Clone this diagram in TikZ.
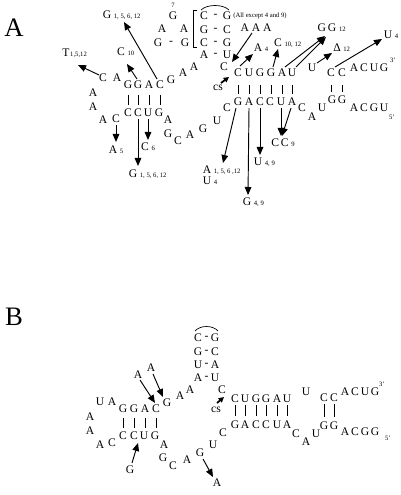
\documentclass[tikz,border=0pt]{standalone}
\usepackage{fontspec}
\setmainfont{Liberation Serif}
\usetikzlibrary{arrows.meta}
\newcommand\nt{\fontsize{8.7}{9}\selectfont}
\newcommand\subf{\fontsize{5}{6}\selectfont}
\newcommand\sbs[2][2pt]{\rlap{\smash{\kern#1\subf #2}}}
\begin{document}
\begin{tikzpicture}[x=0.75pt,y=-0.75pt,
  nt/.style={inner sep=0pt,font=\nt},
  sm/.style={inner sep=0pt,font=\subf},
  panel/.style={inner sep=0pt,font=\fontsize{20}{22}\selectfont},
  arr/.style={line width=0.7pt,-{Triangle[length=6pt,width=5pt]}},
  csarr/.style={line width=1.3pt,-{Triangle[length=4pt,width=4pt]}},
  pairbar/.style={line width=0.45pt},
  plain/.style={line width=0.5pt}]
\useasboundingbox (0,0) rectangle (400,495);

% ================= Panel A =================
\node[panel] (pA) at (14,28) {A};

\node[nt] (tT) at (66,53) {T\sbs[0.5pt]{1,5,12}};
\node[nt] (tC10) at (121,52) {C\sbs{10}};
\node[nt] (tG1) at (107,15) {G\sbs{1, 5, 6, 12}};

\foreach \n/\l/\x/\y in {l1/C/103/78, l2/A/117/78, l3/G/128/85, l4/G/138/85, l5/A/149/85, l6/C/160/85, l7/G/171/80, l8/A/183/73, l9/A/194/67, l10/A/93/93, l11/A/93/107, l12/A/103/120, l13/C/116/119, l14/C/128/113, l15/C/138/113, l16/U/148/113, l17/G/159/113, l18/A/168/120, l19/G/168/134, l20/C/178/141, l21/A/190/135, l22/G/203/129, l23/U/217/121, l24/C/227/108}
  \node[nt] (\n) at (\x,\y) {\l};
\foreach \a/\b in {l3/l14, l4/l15, l5/l16, l6/l17}
  \draw[pairbar, shorten <=4.5pt, shorten >=3pt] (\a.south) -- (\a.south |- \b.north);

\node[nt] (tA5) at (113,150) {A\sbs{5}};
\node[nt] (tC6) at (145,147) {C\sbs{6}};
\node[nt] (tG2) at (133,174) {G\sbs{1, 5, 6, 12}};

% hairpin loop
\node[sm] (h7) at (173,5) {7};
\node[nt] (hG) at (173,16) {G};
\node[nt] (hA1) at (162,29) {A};
\node[nt] (hA2) at (184,29) {A};
\node[nt] (hG1) at (158,43) {G};
\node[nt] (hd) at (171,43) {-};
\node[nt] (hG2) at (185,43) {G};
\draw[plain] (197,10) -- (193,10) -- (193,47) -- (197,47);

\foreach \i/\a/\b/\y in {1/C/G/16, 2/G/C/30, 3/C/G/43, 4/A/U/55} {
  \node[nt] (hl\i) at (204,\y) {\a};
  \node[nt] (hm\i) at (215.5,\y) {-};
  \node[nt] (hr\i) at (227,\y) {\b};
}
\draw[plain] (201,10) .. controls (207,4) and (223,4) .. (229,10);

\node[sm] (note) at (260,16) {(All except 4 and 9)};
\node[nt] (aaa) at (256,28) {A A A};
\node[nt] (cA) at (224,67) {C};
\node[nt] (csA) at (218,88) {cs};

\foreach \l/\x [count=\i] in {C/238, U/249, G/260, G/271, A/282, U/292}
  \node[nt] (s\i) at (\x,73) {\l};
\foreach \l/\x [count=\i] in {G/238, A/249, C/260, C/270, U/281, A/292}
  \node[nt] (b\i) at (\x,102) {\l};
\foreach \i in {1,...,6}
  \draw[pairbar, shorten <=6pt, shorten >=3pt] (s\i.south) -- (s\i.south |- b\i.north);

\node[nt] (u7) at (312,68) {U};
\node[nt] (c8) at (331,73) {C};
\node[nt] (c9) at (342,73) {C};
\foreach \l/\x [count=\i] in {A/354, C/364, U/374, G/384}
  \node[nt] (r\i) at (\x,68) {\l};
\node[sm] (p3) at (393,60) {3'};
\node[nt] (bC) at (302,108) {C};
\node[nt] (bA) at (312,117) {A};
\node[nt] (bU) at (322,108) {U};
\node[nt] (g8) at (332,100) {G};
\node[nt] (g9) at (342,100) {G};
\foreach \l/\x [count=\i] in {A/354, C/364, G/374, U/384}
  \node[nt] (q\i) at (\x,108) {\l};
\node[sm] (p5) at (392,117) {5'};
\foreach \a/\b in {c8/g8, c9/g9}
  \draw[pairbar, shorten <=6pt, shorten >=3pt] (\a.south) -- (\a.south |- \b.north);

\node[nt] (tA4) at (258,48) {A\sbs{4}};
\node[nt] (tC1012) at (278,43) {C\sbs{10, 12}};
\node[nt] (tGG) at (327,28) {G\,G\sbs{12}};
\node[nt] (tD) at (337,48) {Δ\sbs{12}};
\node[nt] (tU4) at (388,35) {U\sbs{4}};
\node[nt] (tA1) at (207,170) {A\sbs{1, 5, 6 ,12}};
\node[nt] (tU4b) at (207,181) {U\sbs{4}};
\node[nt] (tU49) at (258,162) {U\sbs{4, 9}};
\node[nt] (tG49) at (247,202) {G\sbs{4, 9}};
\node[nt] (tCC9) at (280,143) {C\,C\sbs{9}};

% arrows A
\draw[arr] ([shift={(-4,-3)}]l1.center) -- ([shift={(12,12)}]tT.center);
\draw[arr] ([shift={(-1,-6)}]l4.center) -- ([shift={(6,12)}]tC10.center);
\draw[arr] ([shift={(-3,-6)}]l6.center) -- ([shift={(17,7)}]tG1.center);
\draw[arr] ([shift={(0,6)}]l13.center) -- ([shift={(3,-8)}]tA5.center);
\draw[arr] ([shift={(0,6)}]l15.center) -- ([shift={(5,-8)}]tG2.center);
\draw[arr] ([shift={(0,6)}]l16.center) -- ([shift={(3,-7)}]tC6.center);
\draw[arr] ([shift={(-4,5)}]aaa.center) -- ([shift={(8,-5)}]cA.center);
\draw[csarr] ([shift={(3,-5)}]csA.center) -- ([shift={(-9,4)}]s1.center);
\draw[arr] ([shift={(2,-7)}]s1.center) -- ([shift={(-5,6)}]tA4.center);
\draw[arr] ([shift={(2,-6)}]s4.center) -- ([shift={(0,6)}]tC1012.center);
\draw[arr] ([shift={(3,-6)}]s5.center) -- ([shift={(-2,8)}]tGG.center);
\draw[arr] ([shift={(4,-6)}]s6.center) -- ([shift={(-1,9)}]tGG.center);
\draw[arr] ([shift={(5,-5)}]u7.center) -- ([shift={(-5,5)}]tD.center);
\draw[arr] ([shift={(4,-6)}]c8.center) -- ([shift={(-6,4)}]tU4.center);
\draw[arr] ([shift={(-2,6)}]b1.center) -- ([shift={(16,-7)}]tA1.center);
\draw[arr] ([shift={(0,6)}]b2.center) -- ([shift={(1,-7)}]tG49.center);
\draw[arr] ([shift={(0,6)}]b3.center) -- ([shift={(2,-7)}]tU49.center);
\draw[arr] ([shift={(0,6)}]b5.center) -- ([shift={(1,-7)}]tCC9.center);
\draw[arr] ([shift={(-1,6)}]b6.center) -- ([shift={(2,-7)}]tCC9.center);

% ================= Panel B =================
\node[panel] (pB) at (14,317) {B};
\foreach \n/\l/\x/\y in {m1/A/138/375, m2/A/151/368, m3/U/100/402, m4/A/112/402, m5/G/123/409, m6/G/134/409, m7/A/145/409, m8/C/156/409, m9/G/167/403, m10/A/180/396, m11/A/190/390, m12/A/90/417, m13/A/90/431, m14/A/100/445, m15/C/112/443, m16/C/123/436, m17/C/134/436, m18/U/144/436, m19/G/155/436, m20/A/164/445, m21/G/163/458, m22/C/173/466, m23/A/187/460, m24/G/200/453, m25/U/213/445, m26/C/223/433, m27/G/130/470, m28/A/217/483}
  \node[nt] (\n) at (\x,\y) {\l};
\foreach \a/\b in {m5/m16, m6/m17, m7/m18, m8/m19}
  \draw[pairbar, shorten <=3.75pt, shorten >=3pt] (\a.south) -- (\a.south |- \b.north);

\foreach \i/\a/\b/\y in {1/C/G/338, 2/G/C/352, 3/U/A/365, 4/A/U/378} {
  \node[nt] (kl\i) at (198,\y) {\a};
  \node[nt] (km\i) at (206.5,\y) {-};
  \node[nt] (kr\i) at (215,\y) {\b};
}
\draw[plain] (195,331) .. controls (200,325) and (213,325) .. (218,331);
\node[nt] (nC) at (222,390) {C};
\node[nt] (csB) at (216,410) {cs};

\foreach \l/\x [count=\i] in {C/235, U/245, G/256, G/266, A/277, U/287}
  \node[nt] (v\i) at (\x,399) {\l};
\foreach \l/\x [count=\i] in {G/235, A/245, C/256, C/266, U/277, A/287}
  \node[nt] (w\i) at (\x,425) {\l};
\foreach \i in {1,...,6}
  \draw[pairbar, shorten <=1.5pt, shorten >=3.5pt] (v\i.south) -- (v\i.south |- w\i.north);

\node[nt] (uB) at (306,392) {U};
\node[nt] (vc8) at (324,398) {C};
\node[nt] (vc9) at (334,398) {C};
\foreach \l/\x [count=\i] in {A/345, C/355, U/365, G/375}
  \node[nt] (vr\i) at (\x,392) {\l};
\node[sm] (p3B) at (382,384) {3'};
\node[nt] (wC) at (296,434) {C};
\node[nt] (wA) at (306,442) {A};
\node[nt] (wU) at (316,434) {U};
\node[nt] (wg8) at (324,426) {G};
\node[nt] (wg9) at (334,426) {G};
\foreach \l/\x [count=\i] in {A/345, C/355, G/365, G/375}
  \node[nt] (wq\i) at (\x,432) {\l};
\node[sm] (p5B) at (388,438) {5'};
\foreach \a/\b in {vc8/wg8, vc9/wg9}
  \draw[pairbar, shorten <=1.5pt, shorten >=3.5pt] (\a.south) -- (\a.south |- \b.north);

% arrows B
\draw[arr] ([shift={(2,5)}]m1.center) -- ([shift={(-1,-6)}]m8.center);
\draw[arr] ([shift={(2,6)}]m2.center) -- ([shift={(-4,-6)}]m9.center);
\draw[arr] ([shift={(2,-7)}]m27.center) -- ([shift={(4,7)}]m17.center);
\draw[arr] ([shift={(3,6)}]m24.center) -- ([shift={(-4,-6)}]m28.center);
\draw[csarr] ([shift={(1,-7)}]csB.center) -- ([shift={(-11,-2)}]v1.center);
\end{tikzpicture}
\end{document}
